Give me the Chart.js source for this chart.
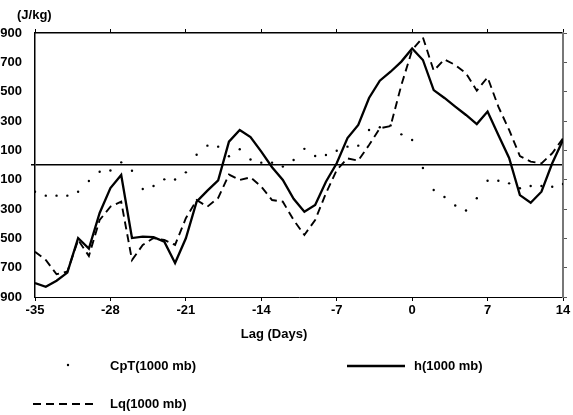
<!DOCTYPE html>
<html>
<head>
<meta charset="utf-8">
<script src="https://cdn.jsdelivr.net/npm/chart.js@4/dist/chart.umd.min.js"></script>
<style>
  html, body { margin: 0; padding: 0; background: #fff; }
  #wrap { width: 573px; height: 415px; position: relative; }
</style>
</head>
<body>
<div id="wrap"><canvas id="chart-lag"></canvas></div>
<script>
// Lag composites at 1000 mb (J/kg), days -35 .. 14
const lagDays = [
  -35, -34, -33, -32, -31, -30, -29, -28, -27, -26,
  -25, -24, -23, -22, -21, -20, -19, -18, -17, -16,
  -15, -14, -13, -12, -11, -10,  -9,  -8,  -7,  -6,
   -5,  -4,  -3,  -2,  -1,   0,   1,   2,   3,   4,
    5,   6,   7,   8,   9,  10,  11,  12,  13,  14
];

// h(1000 mb) — solid
const hValues = [
  -805, -830, -789, -734, -498, -570, -327, -157,  -68, -498,
  -489, -492, -523, -668, -500, -250, -175, -105,  159,  239,
   191,   91,  -15, -102, -230, -318, -273, -114,   12,  184,
   273,  457,  575,  636,  705,  795,  716,  511,  457,  398,
   341,  279,  364,  205,   48, -205, -257, -182,   12,  170
];

// Lq(1000 mb) — dashed
const lqValues = [
  -591, -648, -745, -727, -511, -620, -375, -284, -250, -648,
  -545, -498, -511, -545, -363, -239, -284, -225,  -65, -102,
   -84, -148, -239, -250, -375, -477, -375, -193,  -34,   45,
    30,  136,  250,  266,  545,  784,  870,  643,  720,  682,
   625,  507,  598,  398,  239,   61,   23,   11,   80,  182
];

// CpT(1000 mb) — dots
const cptValues = [
  -182, -209, -209, -209, -182, -109,  -46,  -37,   18,  -39,
  -164, -143,  -98,  -99,  -50,   70,  132,  125,   60,  107,
    37,   16,   16,  -11,   34,  110,   61,   68,   97,  125,
   132,  239,  257,  270,  209,  170,  -20, -170, -218, -276,
  -310, -227, -107, -107, -125, -159, -143, -143, -148, -130
];

const xTicks = [-35, -28, -21, -14, -7, 0, 7, 14];
const yTicks = [-900, -700, -500, -300, -100, 100, 300, 500, 700, 900];

const FONT = "'Liberation Sans', Arial, sans-serif";
const pairs = vals => lagDays.map((d, i) => ({ x: d, y: vals[i] }));

// fixed plot box: left 35, right 563, top 33, bottom 297
const fix = size => scale => {
  if (scale.isHorizontal()) scale.height = size; else scale.width = size;
};

// Titles and the hand-laid legend
const textPlugin = {
  id: 'textos',
  afterDraw(chart) {
    const c = chart.ctx;
    c.save();
    c.fillStyle = '#000';
    c.strokeStyle = '#000';
    c.font = 'bold 13px ' + FONT;
    c.textBaseline = 'middle';
    c.textAlign = 'left';
    c.fillText('(J/kg)', 17, 15);
    c.textAlign = 'center';
    c.fillText('Lag (Days)', 274, 334);
    c.textAlign = 'left';

    // CpT
    c.beginPath(); c.arc(68, 365, 1.2, 0, Math.PI * 2); c.fill();
    c.fillText('CpT(1000 mb)', 110, 366);
    // h
    c.lineWidth = 2.5;
    c.beginPath(); c.moveTo(347, 366); c.lineTo(405, 366); c.stroke();
    c.fillText('h(1000 mb)', 414, 366);
    // Lq
    c.lineWidth = 1.8;
    c.setLineDash([8, 5]);
    c.beginPath(); c.moveTo(33, 404); c.lineTo(97, 404); c.stroke();
    c.setLineDash([]);
    c.fillText('Lq(1000 mb)', 110, 404);
    c.restore();
  }
};

new Chart(document.getElementById('chart-lag'), {
  type: 'line',
  data: {
    datasets: [
      {
        label: 'CpT(1000 mb)',
        data: pairs(cptValues),
        showLine: false,
        pointRadius: 1.2,
        pointBackgroundColor: '#000',
        pointBorderWidth: 0,
      },
      {
        label: 'h(1000 mb)',
        data: pairs(hValues),
        borderColor: '#000',
        borderWidth: 2.3,
        pointRadius: 0,
        tension: 0,
      },
      {
        label: 'Lq(1000 mb)',
        data: pairs(lqValues),
        borderColor: '#000',
        borderWidth: 1.9,
        borderDash: [8, 5],
        pointRadius: 0,
        tension: 0,
      }
    ]
  },
  options: {
    responsive: true,
    maintainAspectRatio: false,
    animation: false,
    layout: { padding: 0 },
    plugins: {
      legend: { display: false },
      tooltip: { enabled: false }
    },
    scales: {
      x: {
        type: 'linear',
        position: 'bottom',
        min: -35, max: 14,
        afterFit: fix(118),
        afterBuildTicks: s => { s.ticks = xTicks.map(v => ({ value: v })); },
        ticks: { color: '#000', font: { family: FONT, size: 13, weight: 'bold' }, padding: 2, maxRotation: 0 },
        grid: { drawOnChartArea: false, drawTicks: true, tickLength: 4, color: '#000' },
        border: { color: '#000', width: 1 }
      },
      xTop: {
        type: 'linear',
        position: 'top',
        min: -35, max: 14,
        afterFit: fix(33),
        afterBuildTicks: s => { s.ticks = xTicks.map(v => ({ value: v })); },
        ticks: { display: false },
        grid: { drawOnChartArea: false, drawTicks: true, tickLength: 4, color: '#000' },
        border: { color: '#000', width: 1.5 }
      },
      y: {
        position: 'left',
        min: -900, max: 900,
        afterFit: fix(35),
        afterBuildTicks: s => { s.ticks = yTicks.map(v => ({ value: v })).concat([{ value: 0 }]); },
        ticks: {
          color: '#000',
          font: { family: FONT, size: 13, weight: 'bold' },
          padding: 9,
          callback: v => v === 0 ? '' : String(Math.abs(v))
        },
        grid: {
          drawOnChartArea: true,
          drawTicks: true,
          tickLength: 4,
          color: ctx => ctx.tick && ctx.tick.value === 0 ? '#000' : 'rgba(0,0,0,0)',
          lineWidth: ctx => ctx.tick && ctx.tick.value === 0 ? 1.5 : 1
        },
        border: { color: '#000', width: 1.5 }
      },
      yRight: {
        position: 'right',
        min: -900, max: 900,
        afterFit: fix(10),
        afterBuildTicks: s => { s.ticks = yTicks.map(v => ({ value: v })); },
        ticks: { display: false },
        grid: { drawOnChartArea: false, drawTicks: true, tickLength: 4, color: '#555' },
        border: { color: '#777', width: 2 }
      }
    }
  },
  plugins: [textPlugin]
});
</script>
</body>
</html>
